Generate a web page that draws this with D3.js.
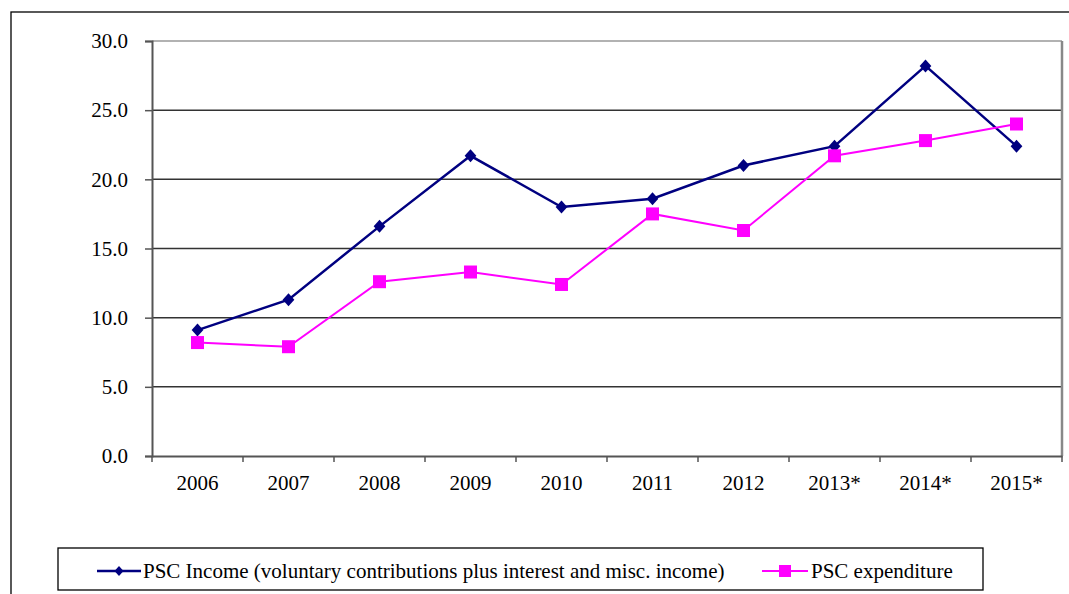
<!DOCTYPE html>
<html><head><meta charset="utf-8">
<script src="https://cdn.jsdelivr.net/npm/d3@7"></script>
<style>body{margin:0;background:#fff}svg{display:block}</style>
</head><body>
<svg id="c" width="1069" height="594"></svg>
<script>
const categories = ["2006","2007","2008","2009","2010","2011","2012","2013*","2014*","2015*"];
const incomeValues = [9.1, 11.3, 16.6, 21.7, 18.0, 18.6, 21.0, 22.4, 28.2, 22.4];
const expenditureValues = [8.2, 7.9, 12.6, 13.3, 12.4, 17.5, 16.3, 21.7, 22.8, 24.0];
const yTicks = [0, 5, 10, 15, 20, 25, 30];
const seriesNames = ["PSC Income (voluntary contributions plus interest and misc. income)", "PSC expenditure"];

const FONT = "Liberation Serif";
const svg = d3.select("#c");
const L = 152, R = 1062, T = 41, B = 456;

// outer frame (cut off at right and bottom)
svg.append("rect").attr("x",11).attr("y",12).attr("width",1080).attr("height",600)
  .attr("fill","none").attr("stroke","#000").attr("stroke-width",1.3);

const x = d3.scaleBand().domain(categories).range([L,R]);
const y = d3.scaleLinear().domain([0,30]).range([B,T]);

// gridlines
svg.append("g").selectAll("line").data(yTicks.filter(d=>d>0 && d<30)).join("line")
  .attr("x1",L).attr("x2",R).attr("y1",d=>y(d)).attr("y2",d=>y(d))
  .attr("stroke","#333").attr("stroke-width",1.5);
// plot border top & right
svg.append("line").attr("x1",L).attr("x2",R).attr("y1",y(30)).attr("y2",y(30)).attr("stroke","#999").attr("stroke-width",1.5);
svg.append("line").attr("x1",R).attr("x2",R).attr("y1",T).attr("y2",B).attr("stroke","#888").attr("stroke-width",2.5);

// y axis
const yAxis = svg.append("g").attr("transform",`translate(${L},0)`)
  .call(d3.axisLeft(y).tickValues(yTicks).tickFormat(d3.format(".1f")).tickSize(7).tickPadding(17));
yAxis.attr("font-family",FONT);
yAxis.select(".domain").attr("stroke","#555").attr("stroke-width",2);
yAxis.selectAll(".tick line").attr("stroke","#555").attr("stroke-width",1.5);
yAxis.selectAll(".tick text").attr("font-size",21).attr("font-family",FONT).attr("fill","#000").attr("dy","0.32em");

// x axis
const xAxis = svg.append("g").attr("transform",`translate(0,${B})`)
  .call(d3.axisBottom(x).tickSize(0).tickPadding(34));
xAxis.attr("font-family",FONT);
xAxis.select(".domain").attr("stroke","#555").attr("stroke-width",2);
xAxis.selectAll(".tick text").attr("font-size",21).attr("font-family",FONT).attr("fill","#000").attr("dy","0");
// category boundary ticks
const bounds = categories.map(c=>x(c)).concat([R]);
svg.append("g").selectAll("line").data(bounds).join("line")
  .attr("x1",d=>d).attr("x2",d=>d).attr("y1",B).attr("y2",B+6)
  .attr("stroke","#555").attr("stroke-width",1.5);

const cx = c => x(c) + x.bandwidth()/2;
const line = d3.line().x(d=>cx(d.c)).y(d=>y(d.v));
const inc = categories.map((c,i)=>({c, v: incomeValues[i]}));
const exp = categories.map((c,i)=>({c, v: expenditureValues[i]}));

svg.append("path").datum(inc).attr("d",line).attr("fill","none").attr("stroke","#000080").attr("stroke-width",2.5);
svg.append("path").datum(exp).attr("d",line).attr("fill","none").attr("stroke","#FF00FF").attr("stroke-width",2);

const diamond = (px,py,s) => `M${px},${py-s}L${px+s*0.9},${py}L${px},${py+s}L${px-s*0.9},${py}Z`;
svg.append("g").selectAll("path").data(inc).join("path")
  .attr("d",d=>diamond(cx(d.c),y(d.v),6.5)).attr("fill","#000080");
svg.append("g").selectAll("rect").data(exp).join("rect")
  .attr("x",d=>cx(d.c)-6.5).attr("y",d=>y(d.v)-6.5).attr("width",13).attr("height",13).attr("fill","#FF00FF");

// legend
const lg = svg.append("g");
lg.append("rect").attr("x",58).attr("y",548).attr("width",925).attr("height",42)
  .attr("fill","#fff").attr("stroke","#000").attr("stroke-width",1.3);
const ly = 571;
lg.append("line").attr("x1",97).attr("x2",141).attr("y1",ly).attr("y2",ly).attr("stroke","#000080").attr("stroke-width",2.5);
lg.append("path").attr("d",diamond(119,ly,5)).attr("fill","#000080");
lg.append("text").attr("x",143).attr("y",ly).attr("dy","0.35em").attr("font-size",21).attr("font-family",FONT).text(seriesNames[0]);
lg.append("line").attr("x1",762).attr("x2",808).attr("y1",ly).attr("y2",ly).attr("stroke","#FF00FF").attr("stroke-width",2);
lg.append("rect").attr("x",779).attr("y",ly-6).attr("width",12).attr("height",12).attr("fill","#FF00FF");
lg.append("text").attr("x",811).attr("y",ly).attr("dy","0.35em").attr("font-size",21).attr("font-family",FONT).text(seriesNames[1]);
</script>
</body></html>
